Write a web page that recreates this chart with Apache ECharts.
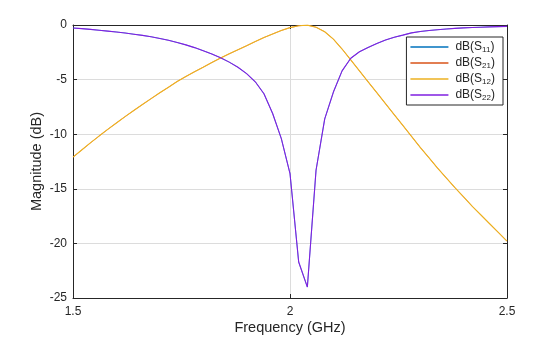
<!DOCTYPE html>
<html>
<head>
<meta charset="utf-8">
<script src="https://cdn.jsdelivr.net/npm/echarts@6/dist/echarts.min.js"></script>
<style>html,body{margin:0;padding:0;background:#fff}#c{width:560px;height:337px}</style>
</head>
<body>
<div id="c"></div>
<script>
var freq = [1.50,1.52,1.54,1.56,1.58,1.60,1.62,1.64,1.66,1.68,1.70,1.72,1.74,1.76,1.78,1.80,1.82,1.84,1.86,1.88,1.90,1.92,1.94,1.96,1.98,2.00,2.02,2.04,2.06,2.08,2.10,2.12,2.14,2.16,2.18,2.20,2.22,2.24,2.26,2.28,2.30,2.32,2.34,2.36,2.38,2.40,2.42,2.44,2.46,2.48,2.50];
var s11 = [-0.28,-0.33,-0.40,-0.48,-0.56,-0.64,-0.73,-0.84,-0.95,-1.08,-1.23,-1.40,-1.60,-1.82,-2.07,-2.35,-2.66,-3.00,-3.40,-3.87,-4.45,-5.20,-6.30,-8.10,-10.40,-13.60,-21.70,-24.00,-13.30,-8.60,-6.14,-4.20,-3.05,-2.45,-2.05,-1.70,-1.38,-1.13,-0.93,-0.72,-0.60,-0.51,-0.43,-0.37,-0.31,-0.26,-0.23,-0.20,-0.17,-0.15,-0.13];
var s21 = [-12.10,-11.45,-10.80,-10.17,-9.56,-8.97,-8.39,-7.83,-7.28,-6.74,-6.21,-5.70,-5.17,-4.72,-4.28,-3.86,-3.43,-3.03,-2.64,-2.27,-1.90,-1.52,-1.15,-0.82,-0.50,-0.24,-0.07,-0.01,-0.20,-0.62,-1.30,-2.20,-3.20,-4.20,-5.20,-6.20,-7.20,-8.20,-9.20,-10.20,-11.20,-12.15,-13.10,-14.00,-14.90,-15.75,-16.60,-17.40,-18.20,-19.00,-19.80];
var s12 = s21.slice();
var s22 = s11.slice();
var xTicks = [1.5, 2, 2.5];
var yTicks = [-25, -20, -15, -10, -5, 0];
var seriesNames = ['dB(S11)', 'dB(S21)', 'dB(S12)', 'dB(S22)'];

function pairs(ys){ return freq.map(function(f,i){ return [f, ys[i]]; }); }

var axisColor = '#262626';
var font = 'Liberation Sans, Arial, Helvetica, sans-serif';
var chart = echarts.init(document.getElementById('c'), null, {renderer:'canvas'});
var colors = ['#0072BD', '#D95319', '#EDB120', '#7F1FE0'];
var widths = [0.6, 0.6, 1.1, 1.1];
var dataSets = [s11, s21, s12, s22];

var commonAxisX = {
  type:'value', min:1.5, max:2.5, interval:0.5,
  axisLine:{show:true, onZero:false, lineStyle:{color:axisColor, width:1}},
  axisTick:{show:true, inside:true, length:4, lineStyle:{color:axisColor}},
};
var commonAxisY = {
  type:'value', min:-25, max:0, interval:5,
  axisLine:{show:true, onZero:false, lineStyle:{color:axisColor, width:1}},
  axisTick:{show:true, inside:true, length:4, lineStyle:{color:axisColor}},
};

var option = {
  animation:false,
  backgroundColor:'#fff',
  color: colors,
  grid:{left:73, right:53, top:25, bottom:39, containLabel:false, outerBoundsMode:'none'},
  legend:{
    orient:'vertical', right:57, top:37,
    backgroundColor:'#fff', borderColor:axisColor, borderWidth:1,
    padding:[3,8,3,4], itemGap:2, itemWidth:38, itemHeight:1.5, icon:'rect',
    data: seriesNames,
    formatter:function(n){ var m = n.match(/^dB\(S(\d+)\)$/); return 'dB(S{sub|'+m[1]+'}{n|)}'; },
    textStyle:{fontFamily:font, fontSize:12, color:axisColor, lineHeight:14, padding:[0,0,0,2],
      rich:{ sub:{fontSize:8, fontFamily:font, color:axisColor, verticalAlign:'bottom', lineHeight:11, padding:[4,0,0,0]},
             n:{fontSize:12, fontFamily:font, color:axisColor, lineHeight:14} } }
  },
  xAxis:[
    Object.assign({}, commonAxisX, {
      position:'bottom',
      name:'Frequency (GHz)', nameLocation:'middle', nameGap:22, nameMoveOverlap:false,
      nameTextStyle:{fontFamily:font, fontSize:14.5, color:axisColor},
      axisLabel:{show:true, margin:8, fontFamily:font, fontSize:12, color:axisColor,
        formatter:function(v){ return xTicks.indexOf(v) >= 0 ? String(v) : ''; }},
      splitLine:{show:true, lineStyle:{color:'#dcdcdc', width:1}}
    }),
    Object.assign({}, commonAxisX, {
      position:'top', axisLabel:{show:false}, splitLine:{show:false}
    })
  ],
  yAxis:[
    Object.assign({}, commonAxisY, {
      position:'left',
      name:'Magnitude (dB)', nameLocation:'middle', nameGap:29, nameMoveOverlap:false,
      nameTextStyle:{fontFamily:font, fontSize:14.5, color:axisColor},
      axisLabel:{show:true, margin:6, fontFamily:font, fontSize:12, color:axisColor,
        formatter:function(v){ return yTicks.indexOf(v) >= 0 ? String(v) : ''; }},
      splitLine:{show:true, lineStyle:{color:'#dcdcdc', width:1}}
    }),
    Object.assign({}, commonAxisY, {
      position:'right', axisLabel:{show:false}, splitLine:{show:false}
    })
  ],
  series: seriesNames.map(function(name, i){
    return {
      name:name, type:'line', xAxisIndex:0, yAxisIndex:0,
      data: pairs(dataSets[i]), symbol:'none', smooth:false,
      lineStyle:{width:widths[i], color:colors[i]}, itemStyle:{color:colors[i]},
      z: 2 + i
    };
  })
};
chart.setOption(option);
</script>
</body>
</html>
